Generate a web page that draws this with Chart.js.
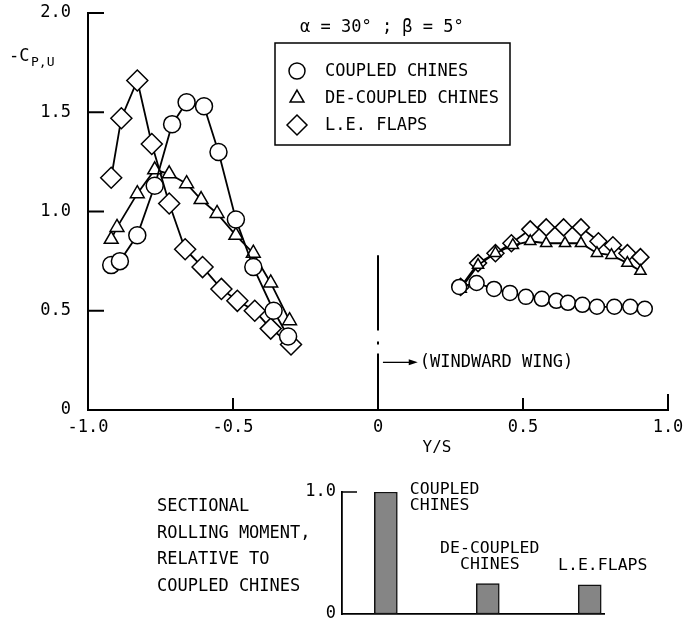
<!DOCTYPE html>
<html>
<head>
<meta charset="utf-8">
<script src="https://cdn.jsdelivr.net/npm/chart.js@4.4.1/dist/chart.umd.min.js"></script>
<style>
  html, body { margin: 0; padding: 0; background: #fff; }
  #wrap { position: relative; width: 697px; height: 625px; }
  canvas { position: absolute; left: 0; }
  #mainChart { top: 0; }
  #barChart { top: 460px; }
</style>
</head>
<body>
<div id="wrap">
  <canvas id="mainChart" width="697" height="460"></canvas>
  <canvas id="barChart" width="697" height="165"></canvas>
</div>
<script>
// leeward wing (Y/S < 0)
const coupledLeftX = [-0.92, -0.89, -0.83, -0.77, -0.71, -0.66, -0.60, -0.55, -0.49, -0.43, -0.36, -0.31];
const coupledLeftY = [0.73, 0.75, 0.88, 1.13, 1.44, 1.55, 1.53, 1.30, 0.96, 0.72, 0.50, 0.37];
const decoupledLeftX = [-0.92, -0.90, -0.83, -0.77, -0.72, -0.66, -0.61, -0.555, -0.49, -0.43, -0.37, -0.305];
const decoupledLeftY = [0.86, 0.92, 1.09, 1.21, 1.19, 1.14, 1.06, 0.99, 0.88, 0.79, 0.64, 0.45];
const flapsLeftX = [-0.92, -0.885, -0.83, -0.78, -0.72, -0.665, -0.605, -0.54, -0.485, -0.425, -0.37, -0.30];
const flapsLeftY = [1.17, 1.47, 1.66, 1.34, 1.04, 0.81, 0.72, 0.61, 0.55, 0.50, 0.41, 0.33];

// windward wing (Y/S > 0)
const coupledRightX = [0.28, 0.34, 0.40, 0.455, 0.51, 0.565, 0.615, 0.655, 0.705, 0.755, 0.815, 0.87, 0.92];
const coupledRightY = [0.62, 0.64, 0.61, 0.59, 0.57, 0.56, 0.55, 0.54, 0.53, 0.52, 0.52, 0.52, 0.51];
const decoupledRightX = [0.285, 0.345, 0.405, 0.465, 0.525, 0.58, 0.645, 0.70, 0.755, 0.805, 0.86, 0.905];
const decoupledRightY = [0.61, 0.73, 0.79, 0.83, 0.85, 0.84, 0.84, 0.84, 0.79, 0.78, 0.74, 0.70];
const flapsRightX = [0.285, 0.345, 0.405, 0.46, 0.525, 0.58, 0.64, 0.70, 0.76, 0.81, 0.86, 0.905];
const flapsRightY = [0.62, 0.74, 0.79, 0.84, 0.91, 0.92, 0.92, 0.92, 0.85, 0.83, 0.79, 0.77];

const seriesNames = ['COUPLED CHINES', 'DE-COUPLED CHINES', 'L.E. FLAPS'];
const xTickValues = [-1.0, -0.5, 0, 0.5, 1.0];
const yTickValues = [0, 0.5, 1.0, 1.5, 2.0];

// rolling moment bars
const barNames = [['COUPLED', 'CHINES'], ['DE-COUPLED', 'CHINES'], ['L.E.FLAPS']];
const barValues = [1.0, 0.25, 0.24];
const barTickValues = [0, 1.0];

const FONT = '"DejaVu Sans Mono", monospace';

function pts(xs, ys) {
    return xs.map((x, i) => ({x: x, y: ys[i]}));
}

function series(label, xs, ys, style, radius) {
    return {
        label: label,
        data: pts(xs, ys),
        showLine: true,
        borderColor: '#000',
        borderWidth: 1.8,
        pointStyle: style,
        pointRadius: radius,
        pointBorderWidth: 1.5,
        pointBackgroundColor: '#fff',
        pointBorderColor: '#000'
    };
}

function line(ctx, x1, y1, x2, y2) {
    ctx.beginPath();
    ctx.moveTo(x1, y1);
    ctx.lineTo(x2, y2);
    ctx.stroke();
}

// keep the vertical axis from reserving room above/below for its labels
function fixVertical(width) {
    return s => {
        s.width = width;
        s.paddingTop = 0;
        s.paddingBottom = 0;
    };
}

const mainExtras = {
    id: 'mainExtras',
    afterDraw(chart) {
        const ctx = chart.ctx;
        const x = chart.scales.x, y = chart.scales.y;
        const area = chart.chartArea;
        ctx.save();
        ctx.strokeStyle = '#000';
        ctx.fillStyle = '#000';
        ctx.lineWidth = 2;

        // inward tick marks
        [0.5, 1.0, 1.5, 2.0].forEach(v => {
            const py = y.getPixelForValue(v);
            line(ctx, area.left, py, area.left + 16, py);
        });
        [-0.5, 0.5].forEach(v => {
            const px = x.getPixelForValue(v);
            line(ctx, px, area.bottom, px, area.bottom - 12);
        });
        line(ctx, area.right, area.bottom, area.right, area.bottom - 16);

        // Y/S = 0 line, broken
        const x0 = x.getPixelForValue(0);
        [[0.78, 0.40], [0.345, 0.33], [0.285, 0]].forEach(s => {
            line(ctx, x0, y.getPixelForValue(s[0]), x0, y.getPixelForValue(s[1]));
        });

        // arrow to windward wing
        const ay = y.getPixelForValue(0.24);
        const ax1 = x.getPixelForValue(0.017), ax2 = x.getPixelForValue(0.137);
        ctx.lineWidth = 1.3;
        line(ctx, ax1, ay, ax2 - 4, ay);
        ctx.beginPath();
        ctx.moveTo(ax2, ay);
        ctx.lineTo(ax2 - 9, ay - 3);
        ctx.lineTo(ax2 - 9, ay + 3);
        ctx.closePath();
        ctx.fill();

        ctx.font = '17px ' + FONT;
        ctx.textBaseline = 'middle';
        ctx.textAlign = 'left';
        ctx.fillText('(WINDWARD WING)', ax2 + 2, ay);

        // axis titles
        ctx.fillText('-C', 9, 57);
        ctx.font = '13px ' + FONT;
        ctx.fillText('P,U', 31, 63);
        ctx.font = '16px ' + FONT;
        ctx.textAlign = 'center';
        ctx.fillText('Y/S', 437, 448);

        // flow conditions
        ctx.font = '17px ' + FONT;
        ctx.textAlign = 'left';
        ctx.fillText('\u03b1 = 30\u00b0 ; \u03b2 = 5\u00b0', 300, 28);

        // legend box
        ctx.lineWidth = 1.5;
        ctx.strokeRect(275, 43, 235, 102);
        const styles = [['circle', 8], ['triangle', 8], ['rectRot', 10]];
        const rows = [71, 98, 125];
        styles.forEach((s, i) => {
            ctx.fillStyle = '#fff';
            ctx.strokeStyle = '#000';
            ctx.lineWidth = 1.5;
            Chart.helpers.drawPoint(ctx, {pointStyle: s[0], radius: s[1], rotation: 0, borderWidth: 1.5}, 297, rows[i]);
            ctx.fillStyle = '#000';
            ctx.fillText(seriesNames[i], 325, rows[i] + 1);
        });
        ctx.restore();
    }
};

new Chart(document.getElementById('mainChart'), {
    type: 'scatter',
    data: {
        datasets: [
            series(seriesNames[0], coupledLeftX, coupledLeftY, 'circle', 8.5),
            series(seriesNames[1], decoupledLeftX, decoupledLeftY, 'triangle', 8),
            series(seriesNames[2], flapsLeftX, flapsLeftY, 'rectRot', 10.5),
            series(seriesNames[0], coupledRightX, coupledRightY, 'circle', 7.5),
            series(seriesNames[1], decoupledRightX, decoupledRightY, 'triangle', 6.5),
            series(seriesNames[2], flapsRightX, flapsRightY, 'rectRot', 8.5)
        ]
    },
    options: {
        responsive: false,
        animation: false,
        devicePixelRatio: 1,
        layout: {padding: {top: 13, right: 29, left: 0, bottom: 0}},
        plugins: {legend: {display: false}, tooltip: {enabled: false}},
        scales: {
            x: {
                type: 'linear',
                min: -1,
                max: 1,
                afterBuildTicks: s => { s.ticks = xTickValues.map(v => ({value: v})); },
                afterFit: s => { s.height = 50; },
                ticks: {
                    color: '#000',
                    font: {family: FONT, size: 17},
                    padding: 7,
                    callback: v => v === 0 ? '0' : v.toFixed(1)
                },
                grid: {display: false, drawTicks: false},
                border: {display: true, color: '#000', width: 2}
            },
            y: {
                min: 0,
                max: 2,
                afterBuildTicks: s => { s.ticks = yTickValues.map(v => ({value: v})); },
                afterFit: fixVertical(88),
                ticks: {
                    color: '#000',
                    font: {family: FONT, size: 17},
                    padding: 17,
                    callback: v => v === 0 ? '0' : v.toFixed(1)
                },
                grid: {display: false, drawTicks: false},
                border: {display: true, color: '#000', width: 2}
            }
        }
    },
    plugins: [mainExtras]
});

const barExtras = {
    id: 'barExtras',
    afterDraw(chart) {
        const ctx = chart.ctx;
        const y = chart.scales.y;
        const area = chart.chartArea;
        ctx.save();
        ctx.strokeStyle = '#000';
        ctx.fillStyle = '#000';
        ctx.lineWidth = 1.5;
        const py = y.getPixelForValue(1.0);
        line(ctx, area.left, py, area.left + 15, py);

        ctx.font = '16.5px ' + FONT;
        ctx.textBaseline = 'middle';
        const bars = chart.getDatasetMeta(0).data;
        // label placement next to / above each bar
        const place = [[24, -2, 'left'], [2, -35, 'center'], [13, -19, 'center']];
        bars.forEach((b, i) => {
            ctx.textAlign = place[i][2];
            barNames[i].forEach((t, j) => {
                ctx.fillText(t, b.x + place[i][0], b.y + place[i][1] + j * 16);
            });
        });

        ctx.font = '17px ' + FONT;
        ctx.textAlign = 'left';
        ['SECTIONAL', 'ROLLING MOMENT,', 'RELATIVE TO', 'COUPLED CHINES'].forEach((t, i) => {
            ctx.fillText(t, 157, 47 + i * 26.5);
        });
        ctx.restore();
    }
};

new Chart(document.getElementById('barChart'), {
    type: 'bar',
    data: {
        datasets: [{
            label: 'SECTIONAL ROLLING MOMENT',
            data: barValues.map((v, i) => ({x: i, y: v})),
            backgroundColor: '#858585',
            borderColor: '#111',
            borderWidth: 1.5,
            borderSkipped: false,
            barThickness: 23
        }]
    },
    options: {
        responsive: false,
        animation: false,
        devicePixelRatio: 1,
        layout: {padding: {top: 32, right: 93, left: 0, bottom: 0}},
        plugins: {legend: {display: false}, tooltip: {enabled: false}},
        scales: {
            x: {
                type: 'linear',
                offset: false,
                min: -0.43,
                max: 2.14,
                afterFit: s => { s.height = 11; },
                ticks: {display: false},
                grid: {display: false, drawTicks: false},
                border: {display: true, color: '#000', width: 1.8}
            },
            y: {
                min: 0,
                max: 1,
                afterBuildTicks: s => { s.ticks = barTickValues.map(v => ({value: v})); },
                afterFit: fixVertical(342),
                ticks: {
                    color: '#000',
                    font: {family: FONT, size: 17},
                    padding: 6,
                    callback: v => v === 0 ? '0' : v.toFixed(1)
                },
                grid: {display: false, drawTicks: false},
                border: {display: true, color: '#000', width: 1.8}
            }
        }
    },
    plugins: [barExtras]
});
</script>
</body>
</html>
